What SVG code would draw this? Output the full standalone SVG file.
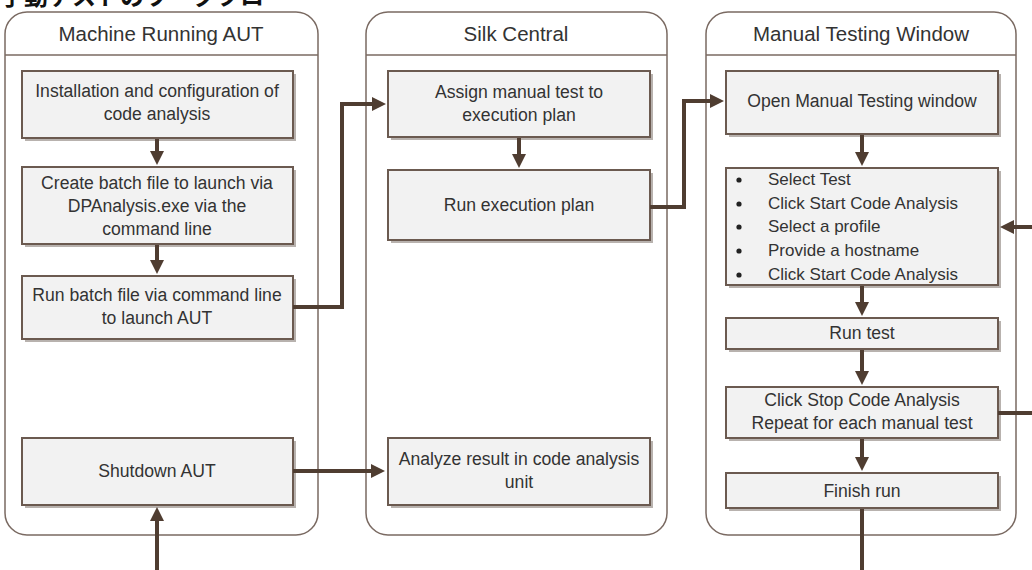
<svg xmlns="http://www.w3.org/2000/svg" width="1032" height="570" viewBox="0 0 1032 570">
<defs>
<style>
.lane{fill:#ffffff;stroke:#7a6a62;stroke-width:1.5}
.hdr{stroke:#7a6a62;stroke-width:1.5}
.ttl{font-family:"Liberation Sans",Arial,sans-serif;font-size:20.5px;fill:#333333;text-anchor:middle}
.shd{fill:#b8b2ae}
.box{fill:#f2f2f2;stroke:#6b5a50;stroke-width:2}
.t{font-family:"Liberation Sans",Arial,sans-serif;font-size:17.6px;fill:#333333;text-anchor:middle}
.tl{font-family:"Liberation Sans",Arial,sans-serif;font-size:17px;fill:#333333}
.c{fill:none;stroke:#4f3d31;stroke-width:4}
.jp{font-family:"Noto Sans CJK JP",sans-serif;font-size:24px;font-weight:bold;fill:#111111}
</style>
<marker id="ah" markerUnits="userSpaceOnUse" markerWidth="16" markerHeight="16" refX="4" refY="7" orient="auto">
<path d="M0,0 L14,7 L0,14 z" fill="#4f3d31"/>
</marker>
</defs>
<rect width="1032" height="570" fill="#ffffff"/>
<text class="jp" x="0" y="5">手動テストのワークフロー</text>

<g id="lane-machine">
<rect class="lane" x="5" y="12" width="313" height="523" rx="22"/>
<line class="hdr" x1="5" y1="55" x2="318" y2="55"/>
<text class="ttl" x="161" y="41">Machine Running AUT</text>
</g>
<g id="lane-silk">
<rect class="lane" x="366" y="12" width="301" height="523" rx="22"/>
<line class="hdr" x1="366" y1="55" x2="667" y2="55"/>
<text class="ttl" x="516" y="41">Silk Central</text>
</g>
<g id="lane-manual">
<rect class="lane" x="706" y="12" width="310" height="523" rx="22"/>
<line class="hdr" x1="706" y1="55" x2="1016" y2="55"/>
<text class="ttl" x="861" y="41">Manual Testing Window</text>
</g>

<g id="n-install">
<rect class="shd" x="25" y="74" width="271" height="67"/>
<rect class="box" x="22" y="71" width="271" height="67"/>
<text class="t" x="157" y="97">Installation and configuration of</text>
<text class="t" x="157" y="120">code analysis</text>
</g>
<g id="n-create">
<rect class="shd" x="25" y="170" width="271" height="77"/>
<rect class="box" x="22" y="167" width="271" height="77"/>
<text class="t" x="157" y="189">Create batch file to launch via</text>
<text class="t" x="157" y="212">DPAnalysis.exe via the</text>
<text class="t" x="157" y="235">command line</text>
</g>
<g id="n-runbatch">
<rect class="shd" x="25" y="279" width="271" height="63"/>
<rect class="box" x="22" y="276" width="271" height="63"/>
<text class="t" x="157" y="301">Run batch file via command line</text>
<text class="t" x="157" y="324">to launch AUT</text>
</g>
<g id="n-shutdown">
<rect class="shd" x="25" y="441" width="271" height="67"/>
<rect class="box" x="22" y="438" width="271" height="67"/>
<text class="t" x="157" y="477">Shutdown AUT</text>
</g>

<g id="n-assign">
<rect class="shd" x="391" y="74" width="262" height="66"/>
<rect class="box" x="388" y="71" width="262" height="66"/>
<text class="t" x="519" y="98">Assign manual test to</text>
<text class="t" x="519" y="121">execution plan</text>
</g>
<g id="n-runexec">
<rect class="shd" x="391" y="173" width="262" height="70"/>
<rect class="box" x="388" y="170" width="262" height="70"/>
<text class="t" x="519" y="211">Run execution plan</text>
</g>
<g id="n-analyze">
<rect class="shd" x="391" y="441" width="262" height="67"/>
<rect class="box" x="388" y="438" width="262" height="67"/>
<text class="t" x="519" y="465">Analyze result in code analysis</text>
<text class="t" x="519" y="488">unit</text>
</g>

<g id="n-open">
<rect class="shd" x="729" y="74" width="272" height="63"/>
<rect class="box" x="726" y="71" width="272" height="63"/>
<text class="t" x="862" y="107">Open Manual Testing window</text>
</g>
<g id="n-steps">
<rect class="shd" x="729" y="171" width="272" height="117"/>
<rect class="box" x="726" y="168" width="272" height="117"/>
<g fill="#222222">
<circle cx="739" cy="180" r="2.6"/>
<circle cx="739" cy="204" r="2.6"/>
<circle cx="739" cy="227" r="2.6"/>
<circle cx="739" cy="251" r="2.6"/>
<circle cx="739" cy="275" r="2.6"/>
</g>
<text class="tl" x="768" y="185">Select Test</text>
<text class="tl" x="768" y="209">Click Start Code Analysis</text>
<text class="tl" x="768" y="232">Select a profile</text>
<text class="tl" x="768" y="256">Provide a hostname</text>
<text class="tl" x="768" y="280">Click Start Code Analysis</text>
</g>
<g id="n-runtest">
<rect class="shd" x="729" y="321" width="272" height="31"/>
<rect class="box" x="726" y="318" width="272" height="31"/>
<text class="t" x="862" y="339">Run test</text>
</g>
<g id="n-stop">
<rect class="shd" x="729" y="390" width="272" height="51"/>
<rect class="box" x="726" y="387" width="272" height="51"/>
<text class="t" x="862" y="406">Click Stop Code Analysis</text>
<text class="t" x="862" y="429">Repeat for each manual test</text>
</g>
<g id="n-finish">
<rect class="shd" x="729" y="476" width="272" height="35"/>
<rect class="box" x="726" y="473" width="272" height="35"/>
<text class="t" x="862" y="497">Finish run</text>
</g>

<g id="connectors">
<path class="c" d="M157,139 V155" marker-end="url(#ah)"/>
<path class="c" d="M157,245 V264" marker-end="url(#ah)"/>
<path class="c" d="M293,307 H342 V104 H376" marker-end="url(#ah)"/>
<path class="c" d="M519,138 V158" marker-end="url(#ah)"/>
<path class="c" d="M650,207 H684 V101 H714" marker-end="url(#ah)"/>
<path class="c" d="M862,135 V156" marker-end="url(#ah)"/>
<path class="c" d="M1034,227 H1010" marker-end="url(#ah)"/>
<path class="c" d="M862,286 V306" marker-end="url(#ah)"/>
<path class="c" d="M862,350 V375" marker-end="url(#ah)"/>
<path class="c" d="M862,439 V461" marker-end="url(#ah)"/>
<path class="c" d="M998,413 H1034"/>
<path class="c" d="M862,509 V572"/>
<path class="c" d="M157,572 V517" marker-end="url(#ah)"/>
<path class="c" d="M293,471 H375" marker-end="url(#ah)"/>
</g>
</svg>
